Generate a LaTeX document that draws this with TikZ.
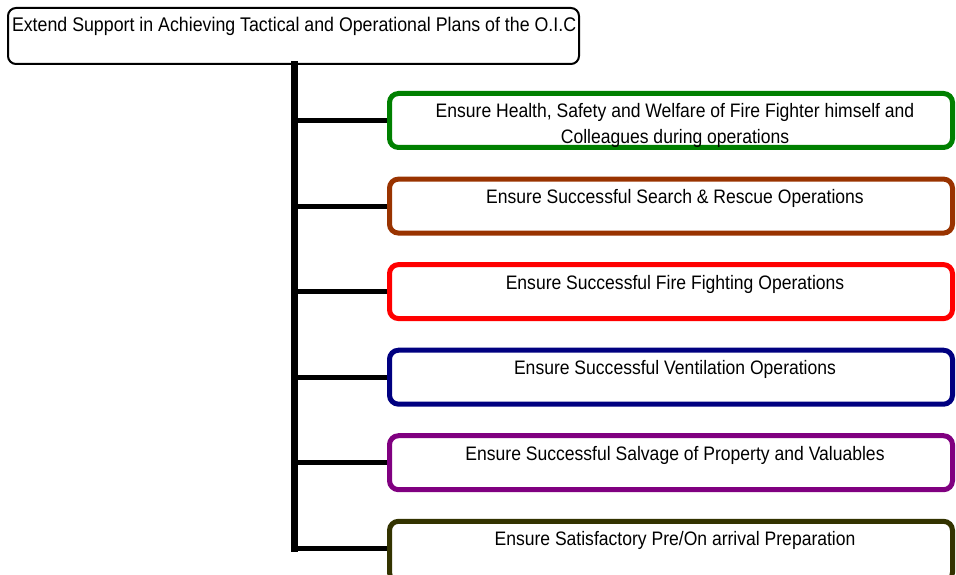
\documentclass[tikz,border=0pt]{standalone}
\usepackage{fontspec}
\setmainfont{Liberation Sans}[FakeStretch=0.90]
\definecolor{cgreen}{RGB}{0,128,0}
\definecolor{cbrown}{RGB}{153,51,0}
\definecolor{cred}{RGB}{255,0,0}
\definecolor{cnavy}{RGB}{0,0,128}
\definecolor{cpurple}{RGB}{128,0,128}
\definecolor{colive}{RGB}{51,51,0}
\tikzset{
  headbox/.style={draw=black, line width=2pt, rounded corners=8pt,
    minimum width=571pt, minimum height=56pt, inner sep=0pt},
  taskbox/.style={draw=#1, line width=5pt, rounded corners=9pt,
    minimum width=563pt, minimum height=54pt, inner sep=0pt},
  trunkline/.style={line width=6.5pt, line cap=rect},
  branchline/.style={line width=5pt}
}
% task text: top aligned, centred a little right of the box middle
\newcommand{\tasktext}[2][54pt]{\parbox[c][#1][t]{556pt}{\centering\leftskip=8pt plus 1fil\fontsize{19.5}{25}\selectfont\rule{0pt}{24.5pt}#2}}
\begin{document}
\begin{tikzpicture}[x=1pt,y=-1pt]
\useasboundingbox (0,0) rectangle (956,575);
\clip (0,0) rectangle (956,575);

% heading box
\node[headbox] (head) at (293.5,36)
  {\parbox[c][56pt][t]{567pt}{\fontsize{19.75}{25}\selectfont\hspace*{2pt}\rule{0pt}{24pt}Extend Support in Achieving Tactical and Operational Plans of the O.I.C\hss}};

% task boxes
\node[taskbox=cgreen]  (b1) at (671,120.5) {\tasktext{Ensure Health, Safety and Welfare of Fire Fighter himself and\\Colleagues during operations}};
\node[taskbox=cbrown]  (b2) at (671,206.1) {\tasktext{Ensure Successful Search \& Rescue Operations}};
\node[taskbox=cred]    (b3) at (671,291.6) {\tasktext{Ensure Successful Fire Fighting Operations}};
\node[taskbox=cnavy]   (b4) at (671,377.2) {\tasktext{Ensure Successful Ventilation Operations}};
\node[taskbox=cpurple] (b5) at (671,462.7) {\tasktext{Ensure Successful Salvage of Property and Valuables}};
\node[taskbox=colive, minimum height=60pt] (b6) at (671,551.3) {\tasktext[60pt]{Ensure Satisfactory Pre/On arrival Preparation}};

% connectors
\coordinate (trunk) at (294.5,64);
\coordinate (b6in) at ([yshift=2.8pt]b6.west);
\draw[trunkline] (trunk) -- (trunk |- b6in);
\foreach \b in {b1,b2,b3,b4,b5,b6in}
  \draw[branchline] (trunk |- \b) -- (\b);
\end{tikzpicture}
\end{document}
